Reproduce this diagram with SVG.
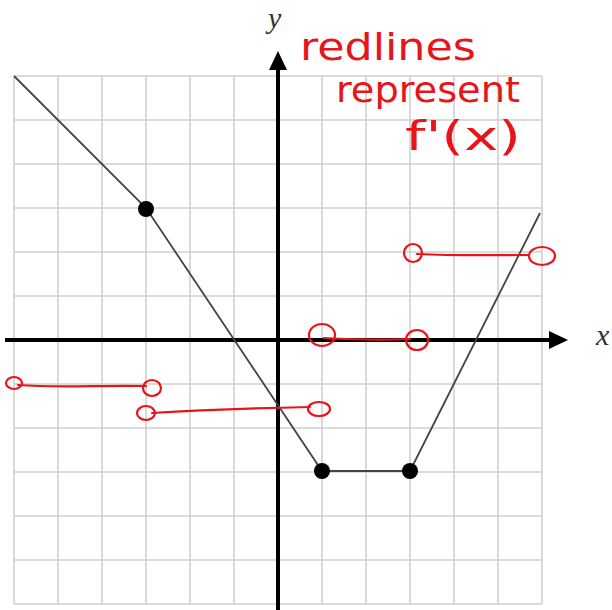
<svg xmlns="http://www.w3.org/2000/svg" width="612" height="610" viewBox="0 0 612 610">
<style>
.grid{stroke:#d0d0d0;stroke-width:1.6;fill:none}
.axis{stroke:#000;stroke-width:4;fill:none}
.fn{stroke:#444;stroke-width:1.8;fill:none}
.dot{fill:#000}
.red{stroke:#e8141a;stroke-width:2.2;fill:none;stroke-linecap:round}
.hand{fill:#e8141a;font-family:"DejaVu Sans Condensed","DejaVu Sans","Liberation Sans",sans-serif;font-weight:normal}
.lbl{fill:#333;font-family:"Liberation Serif",serif;font-style:italic;font-size:30px}
</style>
<rect width="612" height="610" fill="#fff"/>
<g id="grid" class="grid">
<path d="M14 76V604M58 76V604M102 76V604M146 76V604M190 76V604M234 76V604M322 76V604M366 76V604M410 76V604M454 76V604M498 76V604M542 76V604"/>
<path d="M14 76H542M14 120H542M14 164H542M14 208H542M14 252H542M14 296H542M14 384H542M14 428H542M14 472H542M14 516H542M14 560H542M14 604H542"/>
</g>
<g id="axes">
<line class="axis" x1="5" y1="340" x2="552" y2="340"/>
<polygon points="568,340 549,331 549,349" fill="#000"/>
<line class="axis" x1="278" y1="610" x2="278" y2="66"/>
<polygon points="278,51 269,70 287,70" fill="#000"/>
<text class="lbl" x="268" y="28">y</text>
<text class="lbl" x="596" y="345">x</text>
</g>
<g id="function">
<polyline class="fn" points="14,76 146,208 322,471 410,471 540,213"/>
<circle class="dot" cx="146" cy="209" r="8"/>
<circle class="dot" cx="322" cy="471" r="8"/>
<circle class="dot" cx="410" cy="471" r="8"/>
</g>
<g id="derivative">
<ellipse class="red" cx="14" cy="383" rx="8" ry="6"/>
<path class="red" d="M18 385 C60 388 100 385 146 386"/>
<ellipse class="red" cx="152" cy="388" rx="9" ry="8"/>
<ellipse class="red" cx="146" cy="413" rx="9" ry="7"/>
<path class="red" d="M152 413 C200 410 260 408 310 407"/>
<ellipse class="red" cx="319" cy="409" rx="11" ry="7"/>
<ellipse class="red" cx="322" cy="335" rx="13" ry="11"/>
<path class="red" d="M324 338 C360 340 390 340 410 339"/>
<ellipse class="red" cx="417" cy="340" rx="11" ry="10"/>
<ellipse class="red" cx="413" cy="253" rx="9" ry="9"/>
<path class="red" d="M417 254 C460 256 500 255 528 255"/>
<ellipse class="red" cx="542" cy="256" rx="13" ry="9"/>
</g>
<g id="note">
<text class="hand" x="300" y="60" font-size="38" textLength="176" lengthAdjust="spacingAndGlyphs">redlines</text>
<text class="hand" x="336" y="102" font-size="36" textLength="184" lengthAdjust="spacingAndGlyphs">represent</text>
<text class="hand" x="405" y="150" font-size="40" textLength="116" lengthAdjust="spacingAndGlyphs">f'(x)</text>
</g>
</svg>
